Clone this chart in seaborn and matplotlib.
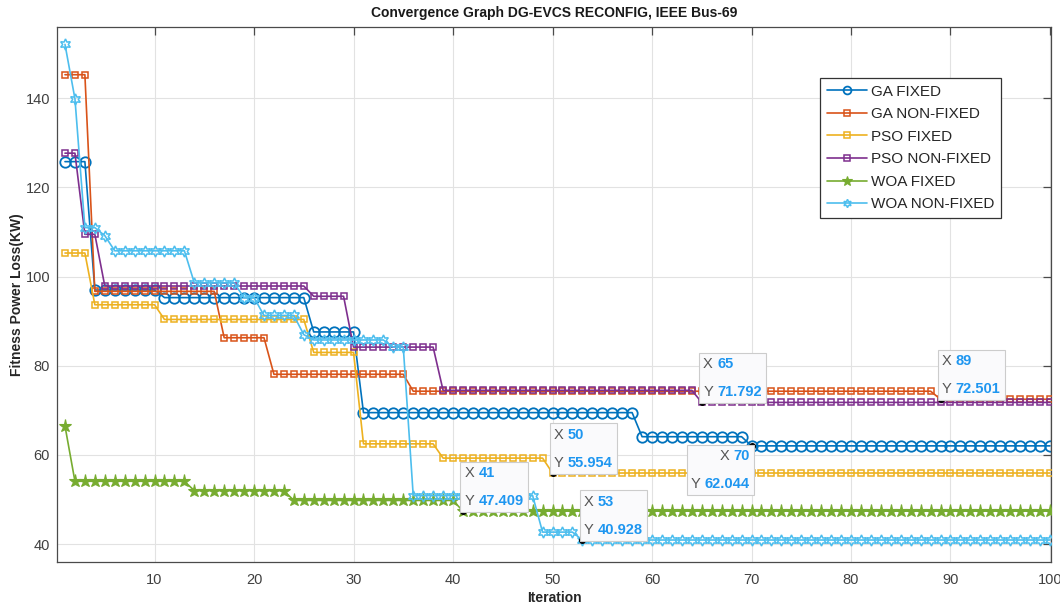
import numpy as np
import pandas as pd
import matplotlib
matplotlib.use("Agg")
import matplotlib.pyplot as plt
import seaborn as sns
from matplotlib.offsetbox import TextArea, HPacker, VPacker, AnnotationBbox

# Best-so-far fitness per algorithm, stored as the iteration where each
# plateau begins and the fitness value held on that plateau.
ga_fixed_start = [1, 4, 11, 26, 31, 59, 70]
ga_fixed_level = [125.8, 97.0, 95.3, 87.6, 69.5, 64.1, 62.044]

ga_nonfixed_start = [1, 4, 17, 22, 36, 89]
ga_nonfixed_level = [145.3, 96.7, 86.3, 78.1, 74.3, 72.501]

pso_fixed_start = [1, 4, 11, 26, 31, 39, 50]
pso_fixed_level = [105.3, 93.7, 90.4, 83.0, 62.5, 59.3, 55.954]

pso_nonfixed_start = [1, 3, 5, 26, 30, 39, 65]
pso_nonfixed_level = [127.7, 109.5, 97.9, 95.6, 84.2, 74.5, 71.792]

woa_fixed_start = [1, 2, 14, 24, 41]
woa_fixed_level = [66.5, 54.1, 52.0, 49.8, 47.409]

woa_nonfixed_start = [1, 2, 3, 5, 6, 14, 19, 21, 25, 26, 34, 36, 49, 53]
woa_nonfixed_level = [152.1, 139.9, 111.0, 109.2, 105.8, 98.6, 95.3, 91.3,
                      87.0, 85.8, 84.2, 50.9, 42.7, 40.928]

n_iter = 100
series_names = ["GA FIXED", "GA NON-FIXED", "PSO FIXED",
                "PSO NON-FIXED", "WOA FIXED", "WOA NON-FIXED"]

# Iterations carrying a data tip, one per series
tip_iters = {"GA FIXED": 70, "GA NON-FIXED": 89, "PSO FIXED": 50,
             "PSO NON-FIXED": 65, "WOA FIXED": 41, "WOA NON-FIXED": 53}


def expand(starts, levels, n):
    bounds = list(starts) + [n + 1]
    lengths = np.diff(bounds)
    return np.repeat(levels, lengths)


iterations = np.arange(1, n_iter + 1)
curves = {
    "GA FIXED": expand(ga_fixed_start, ga_fixed_level, n_iter),
    "GA NON-FIXED": expand(ga_nonfixed_start, ga_nonfixed_level, n_iter),
    "PSO FIXED": expand(pso_fixed_start, pso_fixed_level, n_iter),
    "PSO NON-FIXED": expand(pso_nonfixed_start, pso_nonfixed_level, n_iter),
    "WOA FIXED": expand(woa_fixed_start, woa_fixed_level, n_iter),
    "WOA NON-FIXED": expand(woa_nonfixed_start, woa_nonfixed_level, n_iter),
}

colors = {
    "GA FIXED": "#0072BD",
    "GA NON-FIXED": "#D95319",
    "PSO FIXED": "#EDB120",
    "PSO NON-FIXED": "#7E2F8E",
    "WOA FIXED": "#77AC30",
    "WOA NON-FIXED": "#4DBEEE",
}
marker_style = {
    "GA FIXED": dict(marker="o", markersize=7.5, filled=False, mew=1.3),
    "GA NON-FIXED": dict(marker="s", markersize=5.0, filled=False, mew=1.1),
    "PSO FIXED": dict(marker="s", markersize=5.0, filled=False, mew=1.1),
    "PSO NON-FIXED": dict(marker="s", markersize=5.0, filled=False, mew=1.1),
    "WOA FIXED": dict(marker="*", markersize=9.5, filled=True, mew=0.8),
    "WOA NON-FIXED": dict(marker=(6, 1, 0), markersize=8, filled=False, mew=1.1),
}

sns.set_theme(style="whitegrid")
plt.rcParams["font.family"] = ["Liberation Sans", "DejaVu Sans"]

fig = plt.figure(figsize=(10.6, 6.08), dpi=100)
ax = fig.add_axes([0.0538, 0.0757, 0.9377, 0.8799])
ax.set_facecolor("white")

for i, name in enumerate(series_names):
    c = colors[name]
    st = marker_style[name]
    sns.lineplot(
        x=iterations, y=curves[name], ax=ax, color=c, label=name,
        linewidth=1.2, marker=st["marker"], markersize=st["markersize"],
        markerfacecolor=c if st["filled"] else "none",
        markeredgecolor=c, markeredgewidth=st["mew"], zorder=2 + i,
    )

ax.set_xlim(0.2, 100.1)
ax.set_ylim(36, 156)
ax.set_xticks(np.arange(10, 101, 10))
ax.set_yticks(np.arange(40, 141, 20))

ax.grid(True, color="#E2E2E2", linewidth=0.8)
for sp in ax.spines.values():
    sp.set_visible(True)
    sp.set_color("#4A4A4A")
    sp.set_linewidth(0.9)
ax.tick_params(axis="both", direction="in", length=6, width=0.9,
               top=True, right=True, color="#4A4A4A",
               labelcolor="#404040", labelsize=10.5)
ax.tick_params(axis="x", pad=8)
ax.tick_params(axis="y", pad=5)

ax.set_title("Convergence Graph DG-EVCS RECONFIG, IEEE Bus-69",
             fontsize=10, fontweight="bold", color="#1A1A1A", pad=7)
ax.set_xlabel("Iteration", fontsize=10, fontweight="bold",
              color="#262626", labelpad=3)
ax.set_ylabel("Fitness Power Loss(KW)", fontsize=10, fontweight="bold",
              color="#262626", labelpad=1)

leg = ax.legend(loc="upper left", bbox_to_anchor=(0.768, 0.905),
                frameon=True, fancybox=False, framealpha=1,
                edgecolor="#333333", fontsize=11, borderpad=0.45,
                handlelength=2.6, handletextpad=0.25, labelspacing=0.56,
                borderaxespad=0)
leg.get_frame().set_linewidth(0.9)
for h in leg.legend_handles:
    h.set_markersize(h.get_markersize() * 0.75)

# Data tips
label_props = dict(color="#555555", fontsize=10.5)
value_props = dict(color="#1E96F0", fontsize=10.5, fontweight="bold")
for name in series_names:
    xi = tip_iters[name]
    yi = float(curves[name][xi - 1])
    ax.plot([xi], [yi], "o", color="black", markersize=4, zorder=20)
    row_x = HPacker(children=[TextArea("X", textprops=label_props),
                              TextArea(f"{xi}", textprops=value_props)],
                    sep=3, pad=0, align="baseline")
    row_y = HPacker(children=[TextArea("Y", textprops=label_props),
                              TextArea(f"{yi:.3f}", textprops=value_props)],
                    sep=3, pad=0, align="baseline")
    left_side = name == "GA FIXED"
    content = VPacker(children=[row_x, row_y], sep=10, pad=0,
                      align="right" if left_side else "left")
    ab = AnnotationBbox(
        content, (xi, yi), xycoords="data",
        xybox=(-1, -2.5) if left_side else (1, 2.5),
        boxcoords="offset points",
        box_alignment=(1, 1) if left_side else (0, 0),
        frameon=True, pad=0.6, fontsize=10,
        bboxprops=dict(facecolor="#FAFAFC", edgecolor="#CCCCCC",
                       linewidth=0.8, boxstyle="square"),
        zorder=21,
    )
    ax.add_artist(ab)

fig.savefig("out.png", dpi=100, facecolor="white")
